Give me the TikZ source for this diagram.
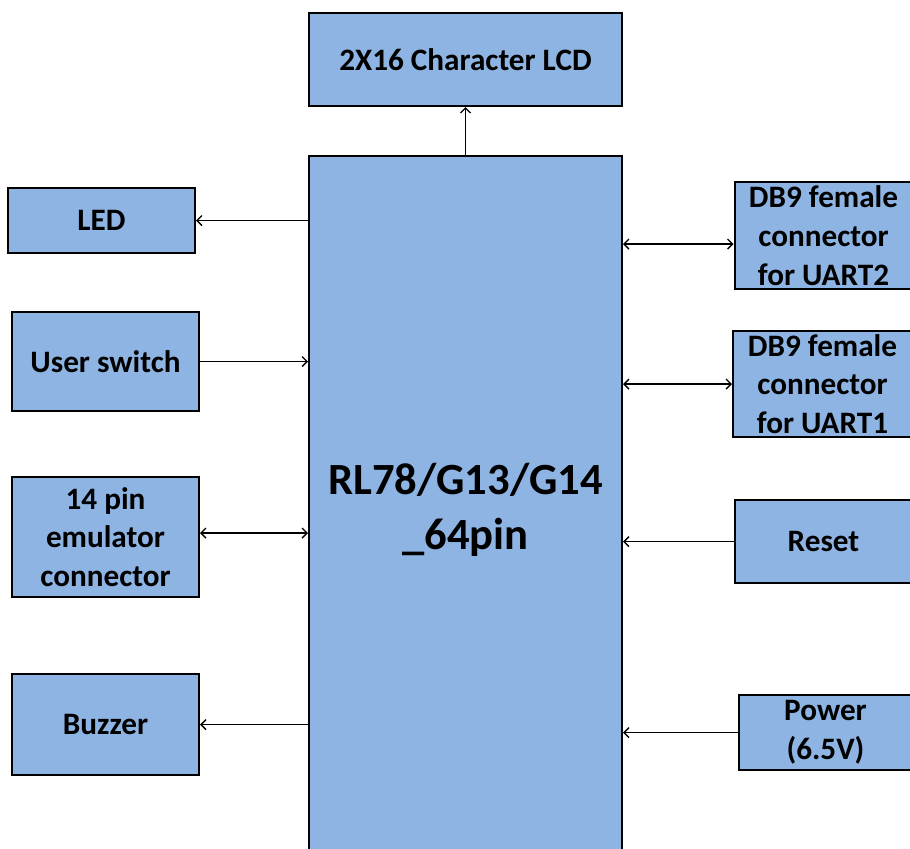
\documentclass[tikz,border=0pt]{standalone}
\usepackage{fontspec}
\setmainfont{Carlito}
\usetikzlibrary{arrows.meta}
\definecolor{boxblue}{RGB}{142,180,227}

\begin{document}
\begin{tikzpicture}[x=0.5pt, y=-0.5pt,
  >={Straight Barb[length=2.5pt,width=5pt]},
  blk/.style={draw=black, line width=1pt, fill=boxblue, align=center, inner sep=0pt,
    font=\bfseries\fontsize{15.6}{19.4}\selectfont},
  link/.style={line width=0.7pt}]
\useasboundingbox (0,0) rectangle (910,848);
\clip (0,0) rectangle (910,848);

% main chip and display
\node[blk, minimum width=156.5pt, minimum height=354pt,
  font=\bfseries\fontsize{22.3}{27.5}\selectfont] (mcu) at (465.5,510) {RL78/G13/G14\\\_64pin};
\node[blk, minimum width=156.5pt, minimum height=46.5pt] (lcd) at (465.5,59.5) {2X16 Character LCD};

% left side
\node[blk, minimum width=93.5pt, minimum height=32.5pt] (led) at (101.5,220.5) {LED};
\node[blk, minimum width=93.5pt, minimum height=49.5pt] (usw) at (105.5,361.5) {User switch};
\node[blk, minimum width=93.5pt, minimum height=60pt] (emu) at (105.5,537) {14 pin\\emulator\\connector};
\node[blk, minimum width=93.5pt, minimum height=50.5pt] (buz) at (105.5,724.5) {Buzzer};

% right side
\node[blk, minimum width=89pt, minimum height=53.5pt] (uart2) at (823.5,235.5) {DB9 female\\connector\\for UART2};
\node[blk, minimum width=89.5pt, minimum height=53pt] (uart1) at (822.5,384) {DB9 female\\connector\\for UART1};
\node[blk, minimum width=89pt, minimum height=41.5pt] (reset) at (823.5,541.5) {Reset};
\node[blk, minimum width=87pt, minimum height=37.5pt] (power) at (825.5,732.5) {Power\\(6.5V)};

% connections
\coordinate (emuport) at ([yshift=2pt]emu.east);
\coordinate (u2port) at ([yshift=-4.25pt]uart2.west);
\draw[link, ->] (mcu.north) -- (lcd.south);
\draw[link, ->] (led.east -| mcu.west) -- (led.east);
\draw[link, ->] (usw.east) -- (usw.east -| mcu.west);
\draw[link, <->] (emuport) -- (emuport -| mcu.west);
\draw[link, ->] (buz.east -| mcu.west) -- (buz.east);
\draw[link, <->] (u2port -| mcu.east) -- (u2port);
\draw[link, <->] (uart1.west -| mcu.east) -- (uart1.west);
\draw[link, ->] (reset.west) -- (reset.west -| mcu.east);
\draw[link, ->] (power.west) -- (power.west -| mcu.east);
\end{tikzpicture}
\end{document}
